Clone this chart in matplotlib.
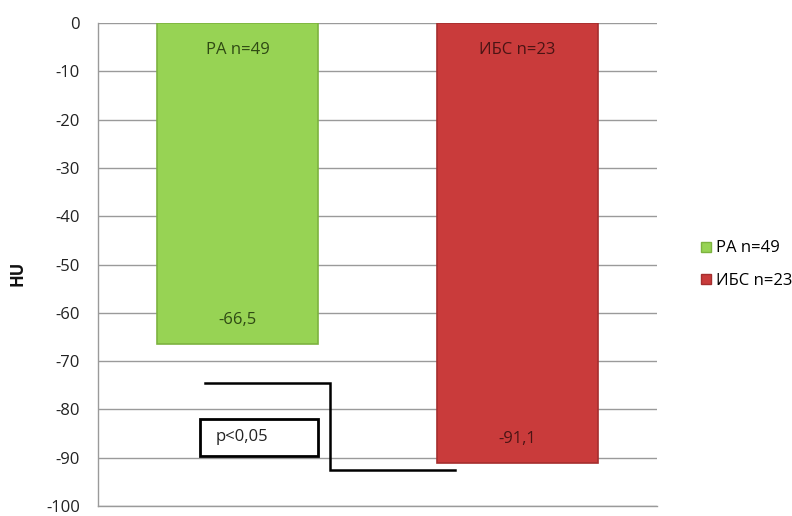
import matplotlib
matplotlib.use("Agg")
import matplotlib.pyplot as plt
from matplotlib.patches import Rectangle
from matplotlib.lines import Line2D

plt.rcParams['font.family'] = ['Open Sans', 'DejaVu Sans']

# Data
groups = ["РА n=49", "ИБС n=23"]
values = [-66.5, -91.1]
value_labels = ["-66,5", "-91,1"]
yticks = [0, -10, -20, -30, -40, -50, -60, -70, -80, -90, -100]
p_text = "p<0,05"

colors = ["#97D354", "#C93B3B"]
edges = ["#7DB33F", "#A52E2E"]
text_colors = ["#2F4A14", "#4A1414"]

fig = plt.figure(figsize=(7.92, 5.16), dpi=100)
ax = fig.add_axes([0.1237, 0.0194, 0.7058, 0.9360])

xpos = [0, 1]
bars = ax.bar(xpos, values, width=0.575, color=colors, edgecolor=edges,
              linewidth=1.2, zorder=3)

ax.set_xlim(-0.5, 1.5)
ax.set_ylim(-100, 0)
ax.set_yticks(yticks)
ax.set_yticklabels([str(t) for t in yticks])
ax.tick_params(axis='y', length=0, labelsize=12, pad=13, labelcolor="#222222")
ax.set_xticks([])

ax.yaxis.grid(True, color="#9A9A9A", linewidth=1.0, zorder=0)
for s in ["top", "right"]:
    ax.spines[s].set_visible(False)
for s in ["left", "bottom"]:
    ax.spines[s].set_color("#9A9A9A")
    ax.spines[s].set_linewidth(1.0)

fig.text(18 / 792, 0.47, "HU", rotation=90, ha="center", va="center",
         fontsize=12, fontweight="bold", color="#111111")

# Labels inside bars
for x, v, name, vl, tc in zip(xpos, values, groups, value_labels, text_colors):
    ax.text(x, -5.5, name, ha="center", va="center", fontsize=12, color=tc, zorder=5)
    ax.text(x, v + 5, vl, ha="center", va="center", fontsize=12, color=tc, zorder=5)

# Significance bracket
ax.plot([-0.116, 0.330, 0.330, 0.777], [-74.5, -74.5, -92.5, -92.5],
        color="black", linewidth=1.8, zorder=4, solid_joinstyle="miter")

# p-value box
ax.add_patch(Rectangle((-0.134, -89.7), 0.42, 7.8, facecolor="white",
                       edgecolor="black", linewidth=2.0, zorder=4))
ax.text(-0.08, -85.8, p_text, ha="left", va="center", fontsize=12,
        color="#222222", zorder=5)

# Legend
handles = [Line2D([0], [0], marker="s", linestyle="none", markersize=7,
                  markerfacecolor=c, markeredgecolor=e)
           for c, e in zip(colors, edges)]
fig.legend(handles, groups, loc="center left", bbox_to_anchor=(0.862, 0.487),
           frameon=False, fontsize=12, handletextpad=0.1, labelspacing=1.0,
           handlelength=1.0)

fig.savefig("out.png", dpi=100)
